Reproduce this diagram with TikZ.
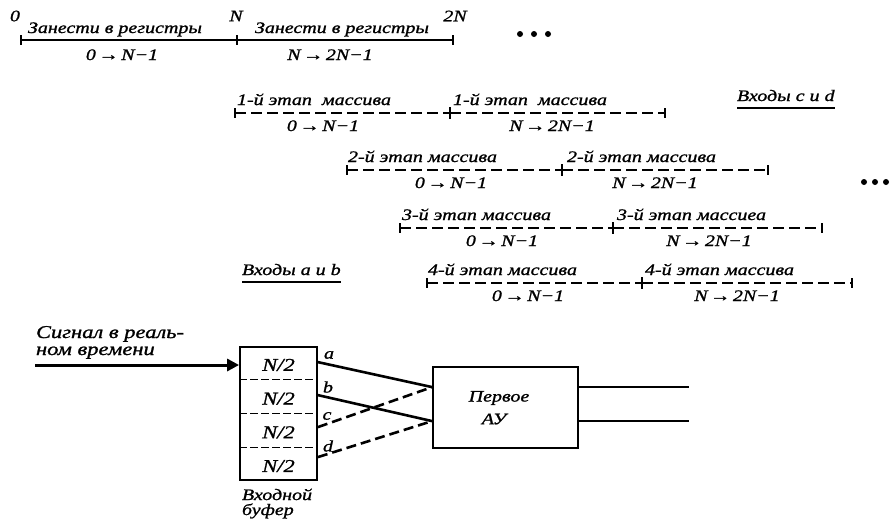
\documentclass[tikz,border=0pt]{standalone}
\usepackage{fontspec}
\setmainfont{Liberation Serif}
\newfontfamily\labfont{Liberation Serif}[FakeStretch=1.25,FakeBold=1.2]
\usetikzlibrary{arrows.meta,calc}
\begin{document}
\begin{tikzpicture}[x=1pt,y=-1pt,
  lbl/.style={font=\labfont\itshape\fontsize{16}{18}\selectfont, inner sep=0pt, outer sep=0pt},
  biglbl/.style={lbl, font=\labfont\itshape\fontsize{18}{20}\selectfont},
  solidaxis/.style={line width=2.4pt},
  dashaxis/.style={line width=2.4pt, dash pattern=on 11pt off 5pt},
  tickmark/.style={line width=1.8pt},
  conn/.style={line width=2.6pt},
  dconn/.style={line width=2.6pt, dash pattern=on 10pt off 5pt},
  boxline/.style={draw, line width=1.8pt, inner sep=0pt},
  divline/.style={line width=1.3pt, dash pattern=on 8pt off 3pt},
  uline/.style={line width=1.3pt},
  dot/.style={circle, fill, inner sep=0pt, minimum size=6pt},
]
\useasboundingbox (0,0) rectangle (891,528);

% ---------- top timeline ----------
\coordinate (t0) at (21,40);
\coordinate (tN) at (237,40);
\coordinate (t2N) at (453,40);
\draw[solidaxis] (t0) -- (t2N);
\foreach \c in {t0,tN,t2N} \draw[tickmark] ([yshift=5pt]\c) -- ([yshift=-5pt]\c);
\node[lbl] (l0) at (15,16) {0};
\node[lbl] (lN) at (236,16) {N};
\node[lbl] (l2N) at (455,16) {2N};
\node[lbl, anchor=base west] (z1) at (28,33) {Занести в регистры};
\node[lbl, anchor=base west] (z2) at (255,33) {Занести в регистры};
\node[lbl, anchor=base] (tr1) at (122,60) {0\,→\,N−1};
\node[lbl, anchor=base] (tr2) at (330,60) {N\,→\,2N−1};
\node[dot] (d1) at (520,34) {};
\node[dot] (d2) at (534,34) {};
\node[dot] (d3) at (548,34) {};

% ---------- stage rows ----------
\foreach \i/\L/\M/\R/\Y/\xa/\xb/\ca/\cb/\sa/\sb in {
  1/235/450/665/113/237/453/323/552/{1-й этап\ \ массива}/{1-й этап\ \ массива},
  2/347/562/768/170/348/567/451/655/{2-й этап массива}/{2-й этап массива},
  3/400/613/822/228/402/617/502/709/{3-й этап массива}/{3-й этап массиеа},
  4/427/642/852/283/428/645/528/737/{4-й этап массива}/{4-й этап массива}}{
  \coordinate (r\i-L) at (\L,\Y);
  \coordinate (r\i-M) at (\M,\Y);
  \coordinate (r\i-R) at (\R,\Y);
  \draw[dashaxis] (r\i-L) -- (r\i-M);
  \draw[dashaxis] (r\i-M) -- (r\i-R);
  \draw[tickmark] ([yshift=5pt]r\i-L) -- ([yshift=-5pt]r\i-L);
  \draw[tickmark] ([yshift=6pt]r\i-M) -- ([yshift=-6pt]r\i-M);
  \draw[tickmark] ([yshift=5pt]r\i-R) -- ([yshift=-5pt]r\i-R);
  \node[lbl, anchor=base west] (r\i-ta) at (\xa,\Y-8) {\sa};
  \node[lbl, anchor=base west] (r\i-tb) at (\xb,\Y-8) {\sb};
  \node[lbl, anchor=base] (r\i-ca) at (\ca,\Y+18) {0\,→\,N−1};
  \node[lbl, anchor=base] (r\i-cb) at (\cb,\Y+18) {N\,→\,2N−1};
}

% ---------- input labels ----------
\node[lbl, anchor=base west] (incd) at (737,101) {Входы c и d};
\draw[uline] ([yshift=-7pt]incd.base west) -- ([yshift=-7pt]incd.base east);
\node[lbl, anchor=base west] (inab) at (242,275) {Входы a и b};
\draw[uline] ([yshift=-7pt]inab.base west) -- ([yshift=-7pt]inab.base east);

\node[dot] (e1) at (864,182) {};
\node[dot] (e2) at (875,182) {};
\node[dot] (e3) at (886,182) {};

% ---------- bottom block diagram ----------
\node[biglbl, anchor=base west] (sig1) at (36,338) {Сигнал в реаль-};
\node[biglbl, anchor=base west] (sig2) at (36,355) {ном времени};
\coordinate (sigstart) at (35,365);
\node[boxline, minimum width=77pt, minimum height=133pt] (buf) at (278.5,413.5) {};
\draw[line width=3pt, -{Triangle[length=12pt,width=12pt]}] (sigstart) -- (sigstart -| buf.west);
\foreach \k in {1,2,3}{
  \draw[divline] ($(buf.north west)!\k/4!(buf.south west)$) -- ($(buf.north east)!\k/4!(buf.south east)$);
}
\foreach \k/\f in {1/0.125,2/0.375,3/0.625,4/0.875}{
  \node[biglbl, yshift=-2pt] (cell\k) at ($(buf.north)!\f!(buf.south)$) {N/2};
}
\node[lbl, anchor=base west] (bufl1) at (242,500) {Входной};
\node[lbl, anchor=base west] (bufl2) at (242,515) {буфер};

\node[boxline, minimum width=145pt, minimum height=81pt] (au) at (505.5,407.5) {};
\node[lbl] (au1) at (499,398) {Первое};
\node[lbl] (au2) at (494,419) {АУ};

\coordinate (pa) at ($(buf.north east)+(0,16)$);
\coordinate (pb) at ($(buf.north east)+(0,49)$);
\coordinate (pc) at ($(buf.north east)+(0,81)$);
\coordinate (pd) at ($(buf.north east)+(0,111)$);
\coordinate (in1) at ($(au.north west)+(0,21)$);
\coordinate (in2) at ($(au.north west)+(0,55)$);
\coordinate (out1s) at ($(au.north east)+(0,21)$);
\coordinate (out2s) at ($(au.north east)+(0,55)$);
\coordinate (out1e) at ($(au.north east)+(110,21)$);
\coordinate (out2e) at ($(au.north east)+(110,55)$);

\draw[conn] (pa) -- (in1);
\draw[conn] (pb) -- (in2);
\draw[dconn] (pc) -- (in1);
\draw[dconn] (pd) -- (in2);
\draw[conn] (out1s) -- (out1e);
\draw[conn] (out2s) -- (out2e);

\node[lbl] (la) at (329,355) {a};
\node[lbl] (lb) at (328,387) {b};
\node[lbl] (lc) at (327,416) {c};
\node[lbl] (ld) at (328,446) {d};
\end{tikzpicture}
\end{document}
